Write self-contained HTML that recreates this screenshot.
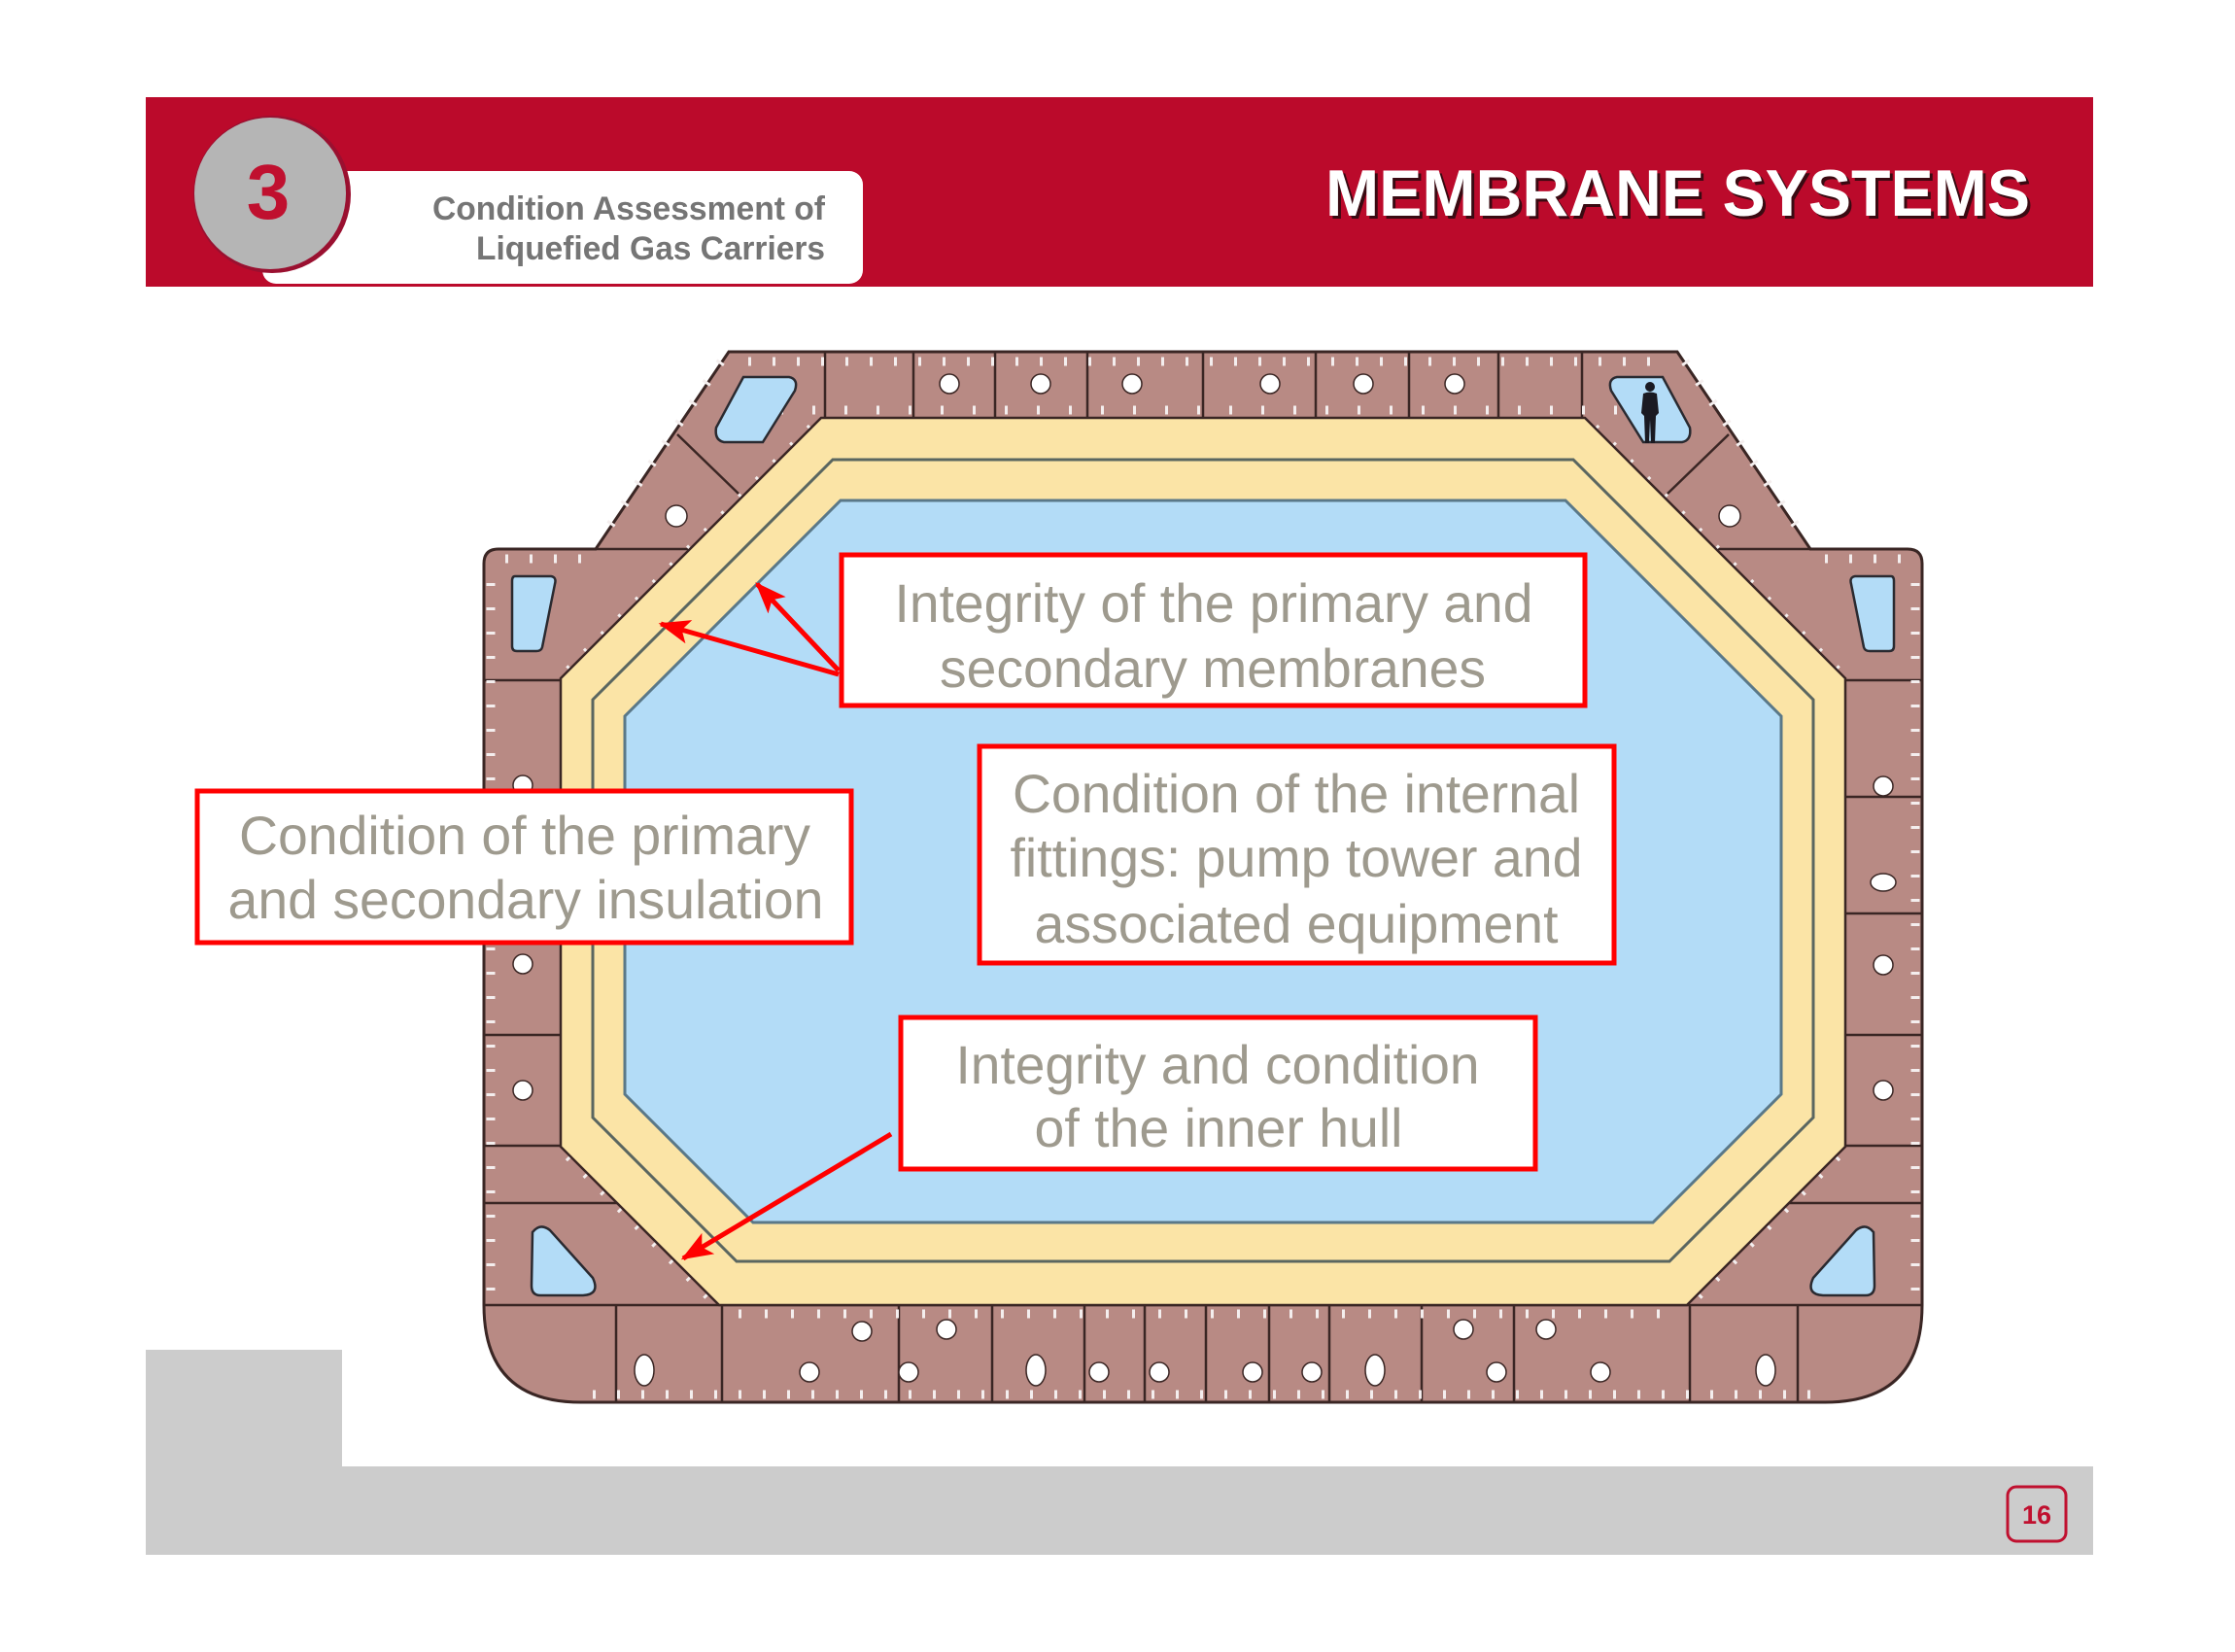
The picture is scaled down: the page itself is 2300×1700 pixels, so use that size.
<!DOCTYPE html>
<html><head><meta charset="utf-8"><style>
html,body{margin:0;padding:0;background:#fff;}
svg{display:block;}
</style></head><body>
<svg width="2300" height="1700" viewBox="0 0 2300 1700" xmlns="http://www.w3.org/2000/svg" font-family="Liberation Sans, Arial, sans-serif">
<defs>
<marker id="ah" markerWidth="6.5" markerHeight="5" refX="6" refY="2.5" orient="auto" markerUnits="strokeWidth">
<path d="M0,0 L6.5,2.5 L0,5 L1.5,2.5 Z" fill="#f00"/>
</marker>
</defs>
<rect width="2300" height="1700" fill="#fff"/>

<!-- bottom gray -->
<rect x="150" y="1389" width="202" height="211" fill="#cccccc"/>
<rect x="150" y="1509" width="2004" height="91" fill="#cccccc"/>
<rect x="2066" y="1530" width="60" height="56" rx="9" fill="none" stroke="#c0102f" stroke-width="3"/>
<text x="2096" y="1568" font-size="27" font-weight="bold" fill="#c0102f" text-anchor="middle">16</text>

<!-- header -->
<rect x="150" y="100" width="2004" height="195" fill="#bb0a2b"/>
<rect x="270" y="176" width="618" height="116" rx="14" fill="#fff"/>
<circle cx="280" cy="200" r="81" fill="#9a1030"/>
<circle cx="278" cy="199" r="78" fill="#b5b5b5"/>
<text x="276" y="225" font-size="80" font-weight="bold" fill="#c0102f" text-anchor="middle">3</text>
<text x="849" y="226" font-size="34" font-weight="bold" fill="#757575" text-anchor="end" textLength="404" lengthAdjust="spacingAndGlyphs">Condition Assessment of</text>
<text x="849" y="267" font-size="34" font-weight="bold" fill="#757575" text-anchor="end" textLength="359" lengthAdjust="spacingAndGlyphs">Liquefied Gas Carriers</text>
<text x="2092" y="225" font-size="68" font-weight="bold" fill="#3a0a12" text-anchor="end" textLength="725" lengthAdjust="spacingAndGlyphs">MEMBRANE SYSTEMS</text>
<text x="2089" y="222" font-size="68" font-weight="bold" fill="#fff" text-anchor="end" textLength="725" lengthAdjust="spacingAndGlyphs">MEMBRANE SYSTEMS</text>

<!-- hull -->
<path d="M750,362 L1726,362 L1863,565 L1963,565 Q1978,565 1978,580 L1978,1343 Q1978,1443 1878,1443 L598,1443 Q498,1443 498,1343 L498,580 Q498,565 513,565 L613,565 Z" fill="#b88a84" stroke="#3a2624" stroke-width="3"/>
<g stroke="#3a2624" stroke-width="2.5" fill="none">
<path d="M849,362V430 M940,362V430 M1024,362V430 M1119,362V430 M1238,362V430 M1354,362V430 M1450,362V430 M1542,362V430 M1628,362V430"/>
<path d="M634,1343V1443 M743,1343V1443 M925,1343V1443 M1021,1343V1443 M1116,1343V1443 M1178,1343V1443 M1241,1343V1443 M1306,1343V1443 M1368,1343V1443 M1463,1343V1443 M1558,1343V1443 M1739,1343V1443 M1850,1343V1443"/>
<path d="M498,1343H1978"/>
<path d="M498,700H577 M498,820H577 M498,940H577 M498,1065H577 M498,1179H577 M498,1238H637"/>
<path d="M1978,700H1899 M1978,820H1899 M1978,940H1899 M1978,1065H1899 M1978,1179H1899 M1978,1238H1839"/>
<path d="M697,447 L760,508 M613,565 H710 M1779,447 L1716,508 M1863,565 H1766"/>
</g>
<g stroke="#f4eeee" stroke-width="9" stroke-dasharray="3 22" fill="none">
<path d="M770,372 H1710"/>
<path d="M770,422 H1706" stroke-dasharray="3 30"/>
<path d="M610,1435 H1870"/>
<path d="M760,1352 H1720" stroke-dasharray="3 24"/>
<path d="M505,600 V1330"/>
<path d="M1971,600 V1330"/>
<path d="M520,575 H600"/>
<path d="M1956,575 H1876"/>
<path d="M742,372 L620,552"/>
<path d="M1734,372 L1856,552"/>
<path d="M835,440 L585,690"/>
<path d="M1641,440 L1891,690"/>
<path d="M585,1190 L730,1335"/>
<path d="M1891,1190 L1746,1335"/>
</g>
<g fill="#fff" stroke="#3a2624" stroke-width="1.5">
<circle cx="977" cy="395" r="10"/><circle cx="1071" cy="395" r="10"/><circle cx="1165" cy="395" r="10"/>
<circle cx="1307" cy="395" r="10"/><circle cx="1403" cy="395" r="10"/><circle cx="1497" cy="395" r="10"/>
<circle cx="696" cy="531" r="11"/><circle cx="1780" cy="531" r="11"/>
<circle cx="538" cy="808" r="10"/><circle cx="538" cy="992" r="10"/><circle cx="538" cy="1122" r="10"/>
<circle cx="1938" cy="809" r="10"/><ellipse cx="1938" cy="908" rx="13" ry="9"/><circle cx="1938" cy="993" r="10"/><circle cx="1938" cy="1122" r="10"/>
<ellipse cx="663" cy="1410" rx="10" ry="16"/><ellipse cx="1066" cy="1410" rx="10" ry="16"/><ellipse cx="1415" cy="1410" rx="10" ry="16"/><ellipse cx="1817" cy="1410" rx="10" ry="16"/>
<circle cx="833" cy="1412" r="10"/><circle cx="935" cy="1412" r="10"/><circle cx="1131" cy="1412" r="10"/><circle cx="1193" cy="1412" r="10"/>
<circle cx="1289" cy="1412" r="10"/><circle cx="1350" cy="1412" r="10"/><circle cx="1540" cy="1412" r="10"/><circle cx="1647" cy="1412" r="10"/>
<circle cx="887" cy="1370" r="10"/><circle cx="974" cy="1368" r="10"/><circle cx="1506" cy="1368" r="10"/><circle cx="1591" cy="1368" r="10"/>
</g>
<g fill="#b3dcf7" stroke="#2a2a30" stroke-width="2.5">
<path d="M765,388 L812,388 Q822,390 818,402 L785,455 L745,455 Q735,453 737,440 Z"/>
<path d="M1711,388 L1664,388 Q1654,390 1658,402 L1691,455 L1731,455 Q1741,453 1739,440 Z"/>
<path d="M530,593 L567,593 Q573,594 571,601 L558,666 Q557,670 552,670 L532,670 Q527,670 527,665 L527,598 Q527,593 530,593 Z"/>
<path d="M1946,593 L1909,593 Q1903,594 1905,601 L1918,666 Q1919,670 1924,670 L1944,670 Q1949,670 1949,665 L1949,598 Q1949,593 1946,593 Z"/>
<path d="M548,1268 Q556,1258 566,1266 L610,1315 Q618,1332 600,1333 L556,1333 Q547,1333 547,1323 Z"/>
<path d="M1928,1268 Q1920,1258 1910,1266 L1866,1315 Q1858,1332 1876,1333 L1920,1333 Q1929,1333 1929,1323 Z"/>
</g>
<g fill="#1a1a22">
<circle cx="1698" cy="398" r="5"/>
<path d="M1691,405 Q1698,402 1705,405 L1707,425 L1704,428 L1703,456 L1699,456 L1698,432 L1697,456 L1693,456 L1692,428 L1689,425 Z"/>
</g>

<path d="M845,430 L1631,430 L1899,698 L1899,1180 L1736,1343 L740,1343 L577,1180 L577,698 Z" fill="#fbe4a6" stroke="#3a2624" stroke-width="2.5"/>
<path d="M857,473 L1619,473 L1866,720 L1866,1150 L1718,1298 L758,1298 L610,1150 L610,720 Z" fill="none" stroke="#5a6660" stroke-width="3"/>
<path d="M865,515 L1611,515 L1833,737 L1833,1126 L1701,1258 L775,1258 L643,1126 L643,737 Z" fill="#b3dcf7" stroke="#5a7888" stroke-width="3"/>

<g stroke="#f00" stroke-width="5" fill="none">
<line x1="863" y1="694" x2="680" y2="642" marker-end="url(#ah)"/>
<line x1="863" y1="690" x2="779" y2="601" marker-end="url(#ah)"/>
<line x1="917" y1="1167" x2="703" y2="1295" marker-end="url(#ah)"/>
</g>

<g fill="#fff" stroke="#f00" stroke-width="5">
<rect x="866" y="571" width="765" height="155"/>
<rect x="203" y="814" width="673" height="156"/>
<rect x="1008" y="768" width="653" height="223"/>
<rect x="927" y="1047" width="653" height="156"/>
</g>
<g font-size="56" fill="#9e9a8e" text-anchor="middle">
<text x="1249" y="640" textLength="657" lengthAdjust="spacingAndGlyphs">Integrity of the primary and</text>
<text x="1248" y="707" textLength="562" lengthAdjust="spacingAndGlyphs">secondary membranes</text>
<text x="540" y="879" textLength="588" lengthAdjust="spacingAndGlyphs">Condition of the primary</text>
<text x="541" y="945" textLength="613" lengthAdjust="spacingAndGlyphs">and secondary insulation</text>
<text x="1334" y="836" textLength="584" lengthAdjust="spacingAndGlyphs">Condition of the internal</text>
<text x="1334" y="902" textLength="589" lengthAdjust="spacingAndGlyphs">fittings: pump tower and</text>
<text x="1334" y="970" textLength="539" lengthAdjust="spacingAndGlyphs">associated equipment</text>
<text x="1253" y="1115" textLength="539" lengthAdjust="spacingAndGlyphs">Integrity and condition</text>
<text x="1254" y="1180" textLength="379" lengthAdjust="spacingAndGlyphs">of the inner hull</text>
</g>
</svg>
</body></html>
